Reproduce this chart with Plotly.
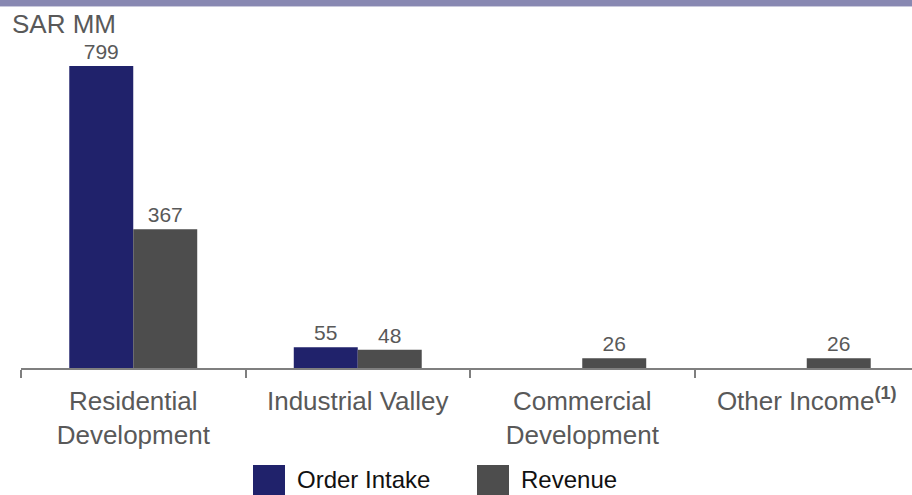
import plotly.graph_objects as go

categories = ["Residential<br>Development", "Industrial Valley",
              "Commercial<br>Development", "Other Income<sup><b>(1)</b></sup>"]
order_intake = [799, 55, None, None]
revenue = [367, 48, 26, 26]
series_names = ["Order Intake", "Revenue"]
colors = ["#20226b", "#4d4d4d"]

W, H = 912, 495
ML, MR, MT, MB = 21, 0, 30, 127
PW, PH = W - ML - MR, H - MT - MB

def px_x(px):
    return (px - ML) / PW

def px_y(py):
    return (H - MB - py) / PH

fig = go.Figure()
for name, vals, col in zip(series_names, [order_intake, revenue], colors):
    xs = [c for c, v in zip(categories, vals) if v is not None]
    ys = [v for v in vals if v is not None]
    fig.add_trace(go.Bar(x=xs, y=ys, name=name,
                         marker=dict(color=col, line=dict(width=0)),
                         text=[str(v) for v in ys], textposition="outside",
                         textfont=dict(size=21, color="#595959"),
                         cliponaxis=False, showlegend=False))

cat_px = 224.5
ymax = PH / (302 / 799)

shapes = []
# top band
shapes.append(dict(type="rect", xref="paper", yref="paper",
                   x0=px_x(0), x1=px_x(W), y0=px_y(6), y1=px_y(0),
                   fillcolor="#8888b2", line=dict(width=0), layer="above"))
shapes.append(dict(type="rect", xref="paper", yref="paper",
                   x0=px_x(0), x1=px_x(W), y0=px_y(7), y1=px_y(6),
                   fillcolor="#c9c9dc", line=dict(width=0), layer="above"))

annotations = [dict(text="SAR MM", xref="paper", yref="paper",
                    x=px_x(10), y=px_y(24), xanchor="left", yanchor="middle",
                    showarrow=False, font=dict(size=26, color="#595959"))]

leg_x = [253, 477]
for i, name in enumerate(series_names):
    shapes.append(dict(type="rect", xref="paper", yref="paper",
                       x0=px_x(leg_x[i]), x1=px_x(leg_x[i] + 32),
                       y0=px_y(497), y1=px_y(465),
                       fillcolor=colors[i], line=dict(width=0)))
    annotations.append(dict(text=name, xref="paper", yref="paper",
                            x=px_x(leg_x[i] + 42), y=px_y(479),
                            xanchor="left", yanchor="middle", showarrow=False,
                            font=dict(size=24, color="#111111")))

fig.update_layout(
    width=W, height=H,
    margin=dict(l=ML, r=MR, t=MT, b=MB, pad=0),
    paper_bgcolor="white", plot_bgcolor="white",
    font=dict(family="Arial, Liberation Sans, sans-serif", color="#595959"),
    barmode="group", bargap=0.43, bargroupgap=0,
    showlegend=False,
    shapes=shapes, annotations=annotations,
    xaxis=dict(type="category", categoryorder="array", categoryarray=categories,
               range=[-0.5, -0.5 + PW / cat_px],
               showline=True, linecolor="#7f7f7f", linewidth=2,
               ticks="outside", tickson="boundaries", ticklen=8,
               tickwidth=2, tickcolor="#7f7f7f",
               ticklabelstandoff=9,
               tickfont=dict(size=26, color="#595959"),
               showgrid=False, zeroline=False),
    yaxis=dict(range=[0, ymax], visible=False, showgrid=False,
               zeroline=False),
)

fig.write_html("out.html")
